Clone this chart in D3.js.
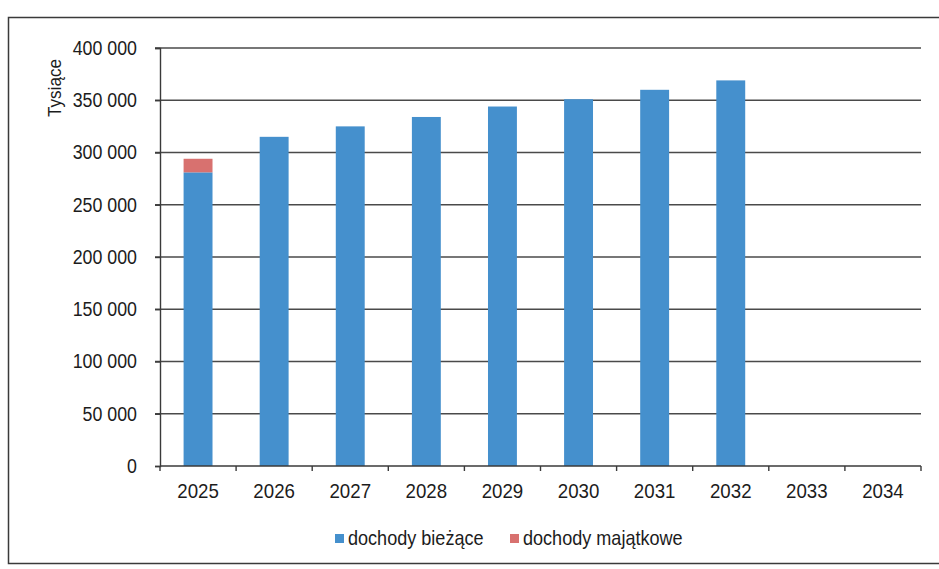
<!DOCTYPE html>
<html>
<head>
<meta charset="utf-8">
<script src="https://cdn.jsdelivr.net/npm/d3@7/dist/d3.min.js"></script>
<style>
  html, body { margin: 0; padding: 0; background: #fff; }
  svg { display: block; }
  text { font-family: "Liberation Sans", Arial, sans-serif; fill: #1c1c1c; }
</style>
</head>
<body>
<svg id="chart" width="939" height="569"></svg>
<script>
// Years on the category axis
const years = ["2025", "2026", "2027", "2028", "2029", "2030", "2031", "2032", "2033", "2034"];
// Current revenue (thousands PLN)
const dochodyBiezace = [281000, 315000, 325000, 334000, 344000, 351000, 360000, 369000, 0, 0];
// Property revenue (thousands PLN)
const dochodyMajatkowe = [13000, 0, 0, 0, 0, 0, 0, 0, 0, 0];
// Y axis ticks
const yTicks = [0, 50000, 100000, 150000, 200000, 250000, 300000, 350000, 400000];
const seriesNames = ["dochody bieżące", "dochody majątkowe"];
const seriesColors = ["#4590cd", "#d8716f"];

const svg = d3.select("#chart");
const margin = { left: 160, right: 18, top: 48, bottom: 103 };
const W = 939, H = 569;

// condensed look: squeeze glyphs horizontally to a fraction of natural width
function narrow(sel, f) {
  sel.each(function () {
    const L = this.getComputedTextLength();
    d3.select(this).attr("textLength", L * f).attr("lengthAdjust", "spacingAndGlyphs");
  });
}

// outer frame
svg.append("rect")
  .attr("x", 8.5).attr("y", 17.5)
  .attr("width", 960).attr("height", 546)
  .attr("fill", "none").attr("stroke", "#3a3a3a").attr("stroke-width", 1.5);

const x = d3.scaleBand().domain(years).range([margin.left, W - margin.right]).paddingInner(0.62).paddingOuter(0.31);
const y = d3.scaleLinear().domain([0, 400000]).range([H - margin.bottom, margin.top]);

// gridlines
svg.append("g")
  .selectAll("line").data(yTicks.filter(d => d > 0)).join("line")
  .attr("x1", margin.left - 5).attr("x2", W - margin.right)
  .attr("y1", d => y(d)).attr("y2", d => y(d))
  .attr("stroke", "#4a4a4a").attr("stroke-width", 1.4);

// stacked bars
const rows = years.map((yr, i) => ({ year: yr, b: dochodyBiezace[i], m: dochodyMajatkowe[i] }));
const stack = d3.stack().keys(["b", "m"])(rows);
svg.append("g").selectAll("g").data(stack).join("g")
  .attr("fill", (d, i) => seriesColors[i])
  .selectAll("rect").data(d => d.filter(p => p[1] - p[0] > 0)).join("rect")
  .attr("x", d => x(d.data.year))
  .attr("width", x.bandwidth())
  .attr("y", d => y(d[1]))
  .attr("height", d => y(d[0]) - y(d[1]));

// y axis
const yAxis = svg.append("g")
  .attr("transform", `translate(${margin.left},0)`)
  .call(d3.axisLeft(y).tickValues(yTicks).tickSize(5).tickPadding(18)
    .tickFormat(d => d3.format(",")(d).replace(/,/g, " ")));
yAxis.select(".domain").attr("stroke", "#3a3a3a").attr("stroke-width", 1.4);
yAxis.selectAll(".tick line").attr("stroke", "#3a3a3a").attr("stroke-width", 1.4);
yAxis.selectAll(".tick text").attr("font-size", 20).attr("fill", "#1c1c1c")
  .style("font-family", "'Liberation Sans',Arial,sans-serif")
  .call(narrow, 0.89);

// x axis with ticks at category boundaries
const xAxisG = svg.append("g").attr("transform", `translate(0,${y(0)})`);
xAxisG.append("line").attr("x1", margin.left).attr("x2", W - margin.right)
  .attr("stroke", "#3a3a3a").attr("stroke-width", 1.4);
const bounds = years.map(d => x(d) - x.step() * x.paddingInner() / 2).concat([W - margin.right]);
xAxisG.selectAll("line.tk").data(bounds).join("line").attr("class", "tk")
  .attr("x1", d => d).attr("x2", d => d).attr("y1", 0).attr("y2", 5)
  .attr("stroke", "#3a3a3a").attr("stroke-width", 1.4);
xAxisG.selectAll("text").data(years).join("text")
  .attr("x", d => x(d) + x.bandwidth() / 2)
  .attr("y", 32)
  .attr("text-anchor", "middle")
  .attr("font-size", 21)
  .text(d => d)
  .call(narrow, 0.89);

// y axis title
svg.append("text")
  .attr("transform", "translate(61,88) rotate(-90)")
  .attr("text-anchor", "middle")
  .attr("font-size", 19)
  .text("Tysiące")
  .call(narrow, 0.9);

// legend
const legendX = [335, 510];
seriesNames.forEach((name, i) => {
  const g = svg.append("g").attr("transform", `translate(${legendX[i]},545)`);
  g.append("rect").attr("x", 0).attr("y", -11).attr("width", 9).attr("height", 9).attr("fill", seriesColors[i]);
  g.append("text").attr("x", 13).attr("y", 0).attr("font-size", 21).text(name).call(narrow, 0.86);
});
</script>
</body>
</html>
